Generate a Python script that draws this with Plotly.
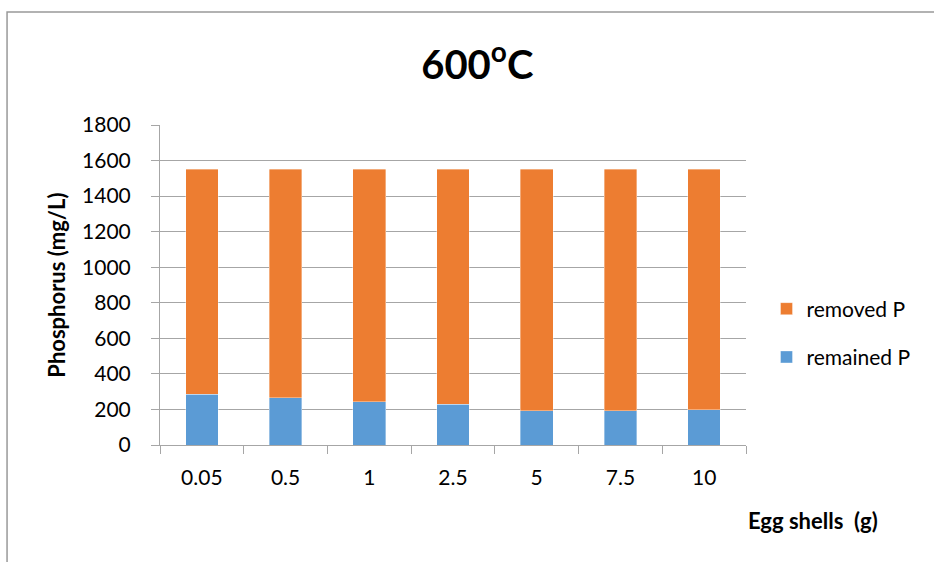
import plotly.graph_objects as go

# Egg shell dose (g) and phosphorus balance (mg/L) at 600 oC
doses = ["0.05", "0.5", "1", "2.5", "5", "7.5", "10"]
remained_p = [286, 267, 244, 229, 194, 194, 197]
total_p = [1550, 1550, 1550, 1550, 1550, 1550, 1550]
removed_p = [t - r for t, r in zip(total_p, remained_p)]

y_ticks = [0, 200, 400, 600, 800, 1000, 1200, 1400, 1600, 1800]

FONT = "Lato, Open Sans, sans-serif"
GRID = "#a6a6a6"

fig = go.Figure()
fig.add_trace(go.Bar(
    x=doses, y=remained_p, name="remained P",
    marker=dict(color="#5B9BD5", line=dict(color="rgba(255,255,255,0.6)", width=0.6)),
    legendgroup="remained", legendrank=2,
))
fig.add_trace(go.Bar(
    x=doses, y=removed_p, name="removed P",
    marker=dict(color="#ED7D31", line=dict(color="rgba(255,255,255,0.6)", width=0.6)),
    legendgroup="removed", legendrank=1,
))

fig.update_layout(
    width=934, height=562,
    margin=dict(l=160, r=188, t=125, b=117),
    paper_bgcolor="white", plot_bgcolor="white",
    barmode="stack", bargap=0.61,
    font=dict(family=FONT, size=21, color="#000000"),
    title=dict(
        text="<b>600<sup>o</sup>C</b>",
        x=0.511, xanchor="center", y=0.885, yanchor="middle",
        font=dict(size=40, family=FONT, color="#000000"),
    ),
    legend=dict(
        x=1.035, xanchor="left", y=0.35, yanchor="middle",
        traceorder="grouped", tracegroupgap=18,
        font=dict(size=21, family=FONT),
        itemwidth=30, bgcolor="rgba(0,0,0,0)",
    ),
    showlegend=True,
    shapes=[dict(
        type="rect", xref="paper", yref="paper",
        x0=-0.261, x1=1.5, y0=-0.5, y1=1.353,
        line=dict(color="#999999", width=1.5), layer="below",
    )],
    annotations=[
        dict(text="<b>Phosphorus (mg/L)</b>", xref="paper", yref="paper",
             x=-0.178, y=0.5, textangle=-90, showarrow=False,
             xanchor="center", yanchor="middle", font=dict(size=22, family=FONT)),
        dict(text="<b>Egg shells  (g)</b>", xref="paper", yref="paper",
             x=1.115, y=-0.235, showarrow=False,
             xanchor="center", yanchor="middle", font=dict(size=22, family=FONT)),
    ],
)

fig.update_xaxes(
    showline=True, linecolor=GRID, linewidth=1,
    ticks="outside", ticklen=8, tickcolor=GRID,
    tickson="boundaries", showgrid=False,
    tickfont=dict(size=21, family=FONT),
    ticklabelstandoff=14,
)
fig.update_yaxes(
    range=[0, 1800], tickvals=y_ticks,
    showline=True, linecolor=GRID, linewidth=1,
    ticks="outside", ticklen=8, tickcolor=GRID,
    showgrid=True, gridcolor=GRID, gridwidth=1,
    zeroline=False, tickfont=dict(size=21, family=FONT),
    ticklabelstandoff=16,
)

fig.write_html("out.html")
